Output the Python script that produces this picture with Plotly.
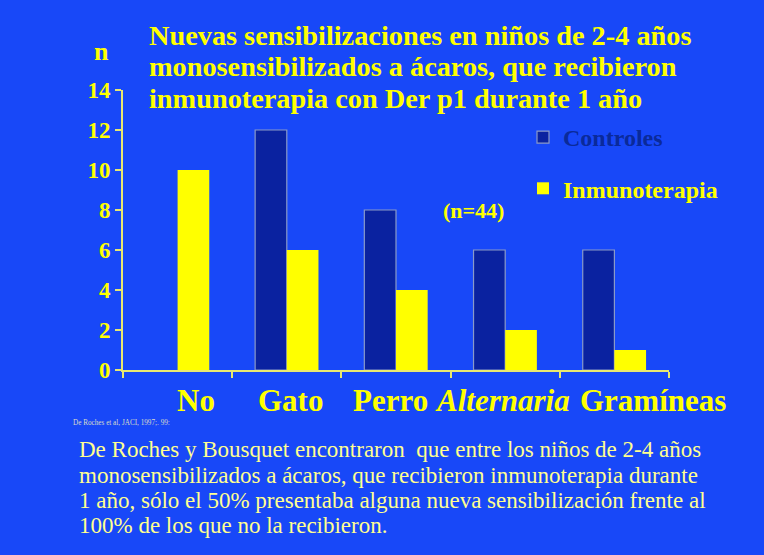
import plotly.graph_objects as go

# data
categorias = ["No", "Gato", "Perro", "Alternaria", "Gramíneas"]
controles = [None, 12, 8, 6, 6]
inmunoterapia = [10, 6, 4, 2, 1]
etiquetas = ["No", "Gato", "Perro", "<i>Alternaria</i>", "Gramíneas"]
etiqueta_shift = [18, 4, -6, -3, 39]
y_ticks = [0, 2, 4, 6, 8, 10, 12, 14]
titulo = ["Nuevas sensibilizaciones en niños de 2-4 años",
          "monosensibilizados a ácaros, que recibieron",
          "inmunoterapia con Der p1 durante 1 año"]
parrafo = ["De Roches y Bousquet encontraron  que entre los niños de 2-4 años",
           "monosensibilizados a ácaros, que recibieron inmunoterapia durante",
           "1 año, sólo el 50% presentaba alguna nueva sensibilización frente al",
           "100% de los que no la recibieron."]

# colours
fondo = "#1848F8"
amarillo = "#FFFF00"
azul_osc = "#0A22A0"
eje = "#E8E870"
serif = "Liberation Serif"

# plot area in pixels
L, R, T, B = 123, 669, 90, 370


def px(x, y):
    # pixel position -> paper coords of the plot area
    return (x - L) / (R - L), (B - y) / (B - T)


def texto(x, y, txt, size, color=amarillo, xanchor="left"):
    x0, y0 = px(x, y)
    fig.add_annotation(
        x=x0, xref="paper", xanchor=xanchor, y=y0, yref="paper",
        yanchor="middle", text=txt, showarrow=False,
        font=dict(family=serif, size=size, color=color),
    )


fig = go.Figure()

fig.add_trace(go.Bar(
    x=categorias, y=controles,
    name="<span style='color:#0A2A9A'>Controles</span>",
    marker=dict(color=azul_osc, line=dict(color="#8A9AC8", width=1.2)),
    legendgroup="c",
))
fig.add_trace(go.Bar(
    x=categorias, y=inmunoterapia,
    name="Inmunoterapia",
    marker=dict(color=amarillo, line=dict(color=amarillo, width=0)),
    legendgroup="i",
))

# category labels (placed under each group)
for cat, txt, dx in zip(categorias, etiquetas, etiqueta_shift):
    fig.add_annotation(
        x=cat, xref="x", y=0, yref="paper", yanchor="top", yshift=-11,
        xshift=dx, text="<b>" + txt + "</b>", showarrow=False,
        font=dict(family=serif, size=31, color=amarillo),
    )

# title, one line each
for i, linea in enumerate(titulo):
    texto(147, 35 + 31.5 * i, "<b>" + linea + "</b>", 28.3)

texto(101.5, 51, "<b>n</b>", 26, xanchor="center")
texto(473, 210, "<b>(n=44)</b>", 22, xanchor="center")
texto(71, 423, "De Roches et al, JACI, 1997;. 99:", 7.2, color="#D8DCC8")

for i, linea in enumerate(parrafo):
    texto(77, 450 + 25 * i, linea, 23, color="#FFFF90")

lx, ly = px(523, 115)
fig.update_layout(
    width=764, height=555,
    paper_bgcolor=fondo, plot_bgcolor=fondo,
    margin=dict(l=L, r=764 - R, t=T, b=555 - B),
    barmode="group", bargap=0.42, bargroupgap=0,
    showlegend=True,
    legend=dict(
        x=lx, y=ly, xanchor="left", yanchor="top",
        bgcolor="rgba(0,0,0,0)", tracegroupgap=17,
        font=dict(family=serif, size=24, color=amarillo, weight="bold"),
    ),
    font=dict(family=serif, color=amarillo),
    xaxis=dict(
        range=[-0.5, 4.5],
        showticklabels=False, showline=True, linecolor=eje, linewidth=2,
        ticks="outside", tickson="boundaries", ticklen=6, tickcolor=eje,
        tickwidth=2, showgrid=False, zeroline=False,
    ),
    yaxis=dict(
        range=[0, 14], tickvals=y_ticks, showline=True, linecolor=eje,
        linewidth=2, ticks="outside", ticklen=6, tickcolor=eje, tickwidth=2,
        showgrid=False, zeroline=False,
        tickfont=dict(family=serif, size=23, color=amarillo, weight="bold"),
    ),
)

fig.write_html("out.html", config={"displayModeBar": False},
               post_script="document.body.style.margin='0';")
